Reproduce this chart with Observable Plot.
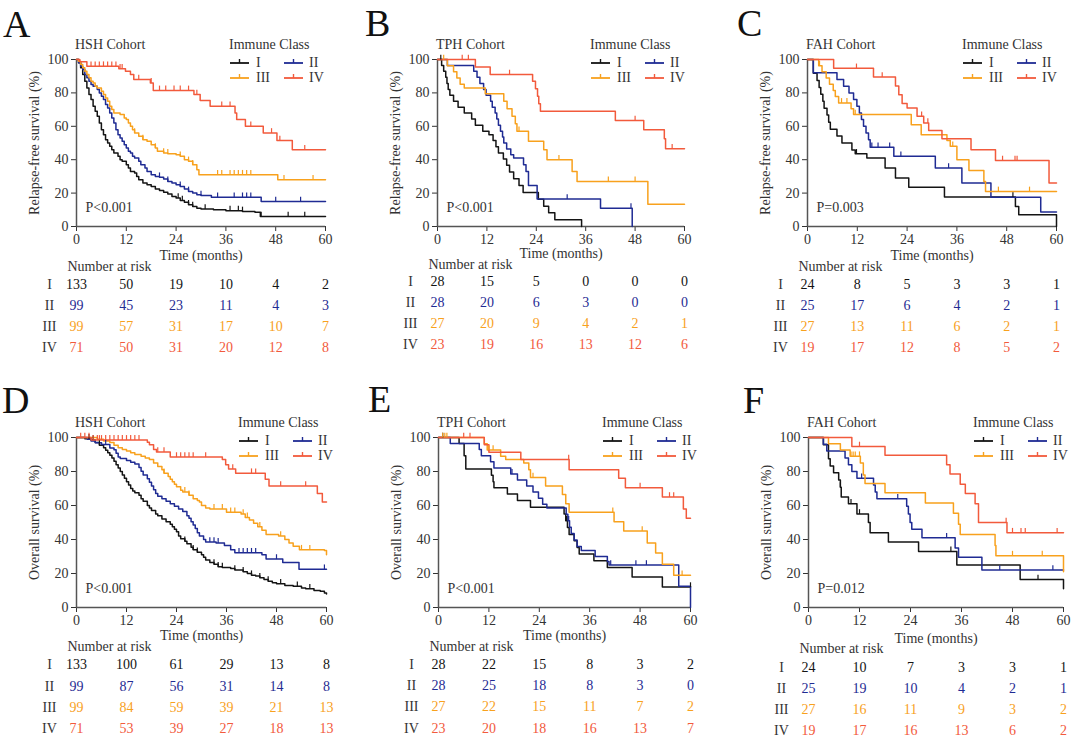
<!DOCTYPE html>
<html>
<head>
<meta charset="utf-8">
<script src="https://cdn.jsdelivr.net/npm/d3@7"></script>
<script src="https://cdn.jsdelivr.net/npm/@observablehq/plot@0.6"></script>
<style>
  body { margin: 0; background: #fff; }
  #root { position: relative; width: 1080px; height: 748px; overflow: hidden; background: #fff; }
  #root > .pl { position: absolute; }
</style>
</head>
<body>
<div id="root"></div>
<script>
// ---------- shared ----------
const months = [0, 12, 24, 36, 48, 60];
const yTicks = [0, 20, 40, 60, 80, 100];
const classNames = ["I", "II", "III", "IV"];
const classColors = ["#141414", "#1f2b93", "#f8a11d", "#f25a3c"];

// ---------- Panel A: HSH relapse-free survival ----------
const rfsHSH_I = [[0,100],[0.5,98],[1,95],[1.5,91],[2,87],[2.5,83],[3,79],[3.5,76],[4,72],[4.5,69],[5,66],[5.5,62],[6,58],[6.5,55],[7,52],[7.5,50],[8,48],[8.5,46],[9,44],[10,42],[10.5,40],[11,39],[12,37],[12.5,35],[13,33],[14,32],[14.5,30],[15,28],[16,26],[17,25],[18,24],[19,22.5],[20,21.5],[21,20.5],[22,19.5],[23,18],[24,17],[25,15.5],[26,14.5],[27,13],[28,12],[29,11],[30,10.5],[33,10],[36,9.5],[40,9],[43,8.5],[44.3,6],[60,6]];
const rfsHSH_II = [[0,100],[0.5,98],[1,96],[1.5,94],[2,91],[2.5,89],[3,87],[3.5,85],[4,84],[5,82],[5.5,80],[6,78],[6.5,76],[7,73],[7.5,71],[8,68],[8.5,65],[9,62],[9.5,58],[10,55],[10.5,53],[11,51],[11.5,49],[12,47],[12.5,45],[13,44],[13.5,42],[14,41],[15,39],[15.5,37],[16.5,35],[17,33],[18,31],[19,30],[20,29.5],[21,28.5],[22,27],[23,26],[24,25],[25,24],[26,22.5],[27,21],[28,20],[29,19],[30,18.5],[32.5,17.5],[44.5,15],[60,15]];
const rfsHSH_III = [[0,100],[0.5,99],[1,97],[1.5,95],[2,93],[2.5,91],[3,89],[3.5,87],[4,86],[4.5,84],[5,83],[6,81],[6.5,79],[7,77],[7.5,75],[8,72],[8.5,70],[9,68],[10.5,67],[11.5,65],[12,64],[12.5,62],[13,60],[13.5,58],[14,56],[15,54],[16,52],[17,51],[18,49],[19,47],[19.5,45],[21,44],[22,43.5],[24,43],[25,42],[26,40],[27,39],[28,37],[29,34],[29.5,31],[48.5,28],[60,28]];
const rfsHSH_IV = [[0,100],[0.8,98.6],[2.5,96],[10.2,94.5],[11.8,93],[13,91],[13.8,88],[17.8,86],[18.5,81.5],[28.3,79],[29.8,75.5],[32.2,72],[38.2,68],[38.6,64],[40.7,60],[45,56],[48.3,51.5],[52,46],[60,46]];
const rfsHSH_I_cens = [24.5,25.5,27,28,31,37,39,40,44.5,51,55];
const rfsHSH_II_cens = [20,22,25,27,30,34,38,40,41,42,48,54];
const rfsHSH_III_cens = [14,16,19,21,22,25,27,28,34,35,37,38,39,40,41,42,50,57];
const rfsHSH_IV_cens = [3.5,4.5,5.5,6.5,7.5,8.5,9.5,10.5,11,15,18,20,21.5,23.5,25,27,29,35,37,42,47,49,55];
const riskA = [[133,50,19,10,4,2],[99,45,23,11,4,3],[99,57,31,17,10,7],[71,50,31,20,12,8]];

// ---------- Panel B: TPH relapse-free survival ----------
const rfsTPH_I = [[0,100],[1,96.4],[1.5,92.9],[2,89.3],[2.3,85.7],[2.6,82.1],[3,78.6],[3.9,75],[5,71.4],[6.5,67.9],[8.3,64.3],[9.2,60.7],[11,57.1],[12.5,55],[13.5,51.5],[14.2,47.8],[14.8,44],[16,40.4],[16.8,36.7],[17.5,32.7],[18.5,28.6],[19.8,24.5],[20.8,20.4],[24.5,16.3],[25.8,12.2],[27,8.2],[28.5,4.1],[35,0]];
const rfsTPH_II = [[0,100],[2.4,96.4],[8.8,92.9],[9.6,89.3],[10.3,85.7],[11.2,82.1],[11.8,78.6],[12.9,75],[13.3,71.4],[14,67.9],[14.4,64.3],[14.8,60.7],[15.3,57.1],[15.8,53.6],[16.1,50],[16.8,46.4],[17.8,42.9],[18.5,41],[20.9,37],[21.5,33],[22.1,24.5],[24.2,16.4],[39.6,11],[47.3,0]];
const rfsTPH_III = [[0,100],[2.4,96.3],[3.9,92.6],[4.7,88.9],[5.5,85.2],[6.5,83],[11.6,79.5],[16.1,75],[16.9,70.5],[18.1,66],[18.9,61.5],[19.3,57],[22.1,51],[25.8,46],[26.6,40],[32.7,33],[33.9,27],[51.1,13.3],[60,13.3]];
const rfsTPH_IV = [[0,100],[9.2,95.5],[12.8,91],[23.1,87],[23.8,82.5],[24.3,78],[24.6,73.5],[25,69],[43.2,63.5],[50.1,58],[55.1,52.5],[55.4,46.5],[60,46.5]];
const rfsTPH_I_cens = [0.8];
const rfsTPH_II_cens = [31.5,47];
const rfsTPH_III_cens = [1.5,19.8,29.5,41.5,48];
const rfsTPH_IV_cens = [6,7.5,17.5,48,57];
const riskB = [[28,15,5,0,0,0],[28,20,6,3,0,0],[27,20,9,4,2,1],[23,19,16,13,12,6]];

// ---------- Panel C: FAH relapse-free survival ----------
const rfsFAH_I = [[0,100],[1.4,91.7],[2.3,87.5],[2.8,83.3],[3.2,79.2],[3.7,75],[4,70.8],[4.7,66.7],[5.1,62.5],[5.5,58.3],[7.1,54.2],[8.3,50],[10.7,45.8],[11.5,43.5],[14.3,41],[18.7,35],[21.2,29],[24.4,23.5],[33,17.6],[50.1,12],[50.9,7],[60,0]];
const rfsFAH_II = [[0,100],[1.4,92],[7.1,88],[8.7,84],[10,80],[11.1,76],[11.9,72],[12.5,68],[13,64],[13.5,60],[14.1,56],[14.7,52],[15.1,47.5],[20.8,42],[30.8,35],[37.2,26],[44.2,17.5],[56.2,8.7],[60,8.7]];
const rfsFAH_III = [[0,100],[2.7,96.3],[3.5,92.6],[4.5,88.9],[5.3,85.2],[6.2,81.5],[6.7,77.8],[7.5,74],[10.5,70.5],[11.1,67],[25,61],[27.4,55],[33.6,51.5],[34.4,48],[36,40],[38.9,33.5],[42.5,27],[42.9,21],[60,21]];
const rfsFAH_IV = [[0,100],[6.3,94.7],[15.9,89.5],[21.2,84.2],[22,78.9],[22.8,73.7],[24,71],[26.4,66],[28,62],[29.2,57.5],[32.4,52.5],[39.4,46],[45.3,39.5],[58.2,26],[60,26]];
const rfsFAH_I_cens = [11.8,49.5];
const rfsFAH_II_cens = [15.5,17,19.8,22.5,34];
const rfsFAH_III_cens = [2.9,8.2,9.5,11.5,35,46,53.5];
const rfsFAH_IV_cens = [11.8,18,27.5,29,47,50,50.5];
const riskC = [[24,8,5,3,3,1],[25,17,6,4,2,1],[27,13,11,6,2,1],[19,17,12,8,5,2]];

// ---------- Panel D: HSH overall survival ----------
const osHSH_I = [[0,100],[2,99.2],[3.5,98.5],[4.5,97],[5.5,95.5],[6.5,94],[7,92.5],[7.5,91],[8,89.5],[8.5,88],[9,86],[9.5,84],[10,82],[10.5,80],[11,78],[11.5,76],[12,74],[12.5,72],[13,70],[13.5,68.5],[14,67.5],[15,66],[15.5,64],[16,62.5],[17,60],[17.5,58.5],[18,57],[19,55],[19.5,54],[20.5,52],[21.5,50.5],[22.5,49],[23,47.5],[23.5,46],[24,44.5],[24.5,42],[25,40.5],[26,39],[26.5,37.5],[27.5,35.5],[28,34],[29,32.5],[30,31],[30.5,29.5],[31,28],[32,26.5],[33,25.5],[34,24],[35,23.5],[37,23],[38,22],[40,21],[41,20],[42,19],[43,18.5],[44,17.5],[45,16.5],[46,15.5],[47,14.5],[48,14],[50,13],[52,12.5],[54,11.5],[55,11],[57,10],[58.5,9.5],[59.5,8.5],[60,8]];
const osHSH_II = [[0,100],[2.6,99],[3.5,97.9],[4.5,96.9],[6,95.9],[8,93.8],[9,92.8],[9.5,90.7],[10,88.6],[10.5,87.6],[12,86.5],[13,85.5],[14,84.4],[15,82.3],[15.5,80.2],[16,78],[17,75.8],[17.5,73.7],[18,71.5],[18.5,69.3],[19,67],[19.5,65.5],[20.5,64],[21.5,62.5],[22.5,61],[23.5,59.5],[24.5,58],[25.5,56.5],[26.5,54],[27,52.5],[27.5,50.5],[28,48.5],[28.5,46.5],[29,44],[29.5,42],[30.5,40],[31,38.5],[33.5,38],[35.5,36.5],[37,34],[38,32.2],[44.5,31],[45.5,28.5],[49.5,26.5],[53.4,22.5],[60,22.5]];
const osHSH_III = [[0,100],[5,99],[6.5,98],[8,97],[9,95.5],[10,94],[11,93],[12,92],[13,91],[14,90],[15.5,89],[16.5,88],[17.5,87],[18.5,85],[19.5,83],[20.5,81],[21,79],[22,77],[22.5,75.5],[23,74],[23.5,72.5],[24,71],[25,69],[25.5,68],[27,66],[28,64],[29,63],[29.5,62],[30,60],[31,58.5],[32,58],[36,56],[39.5,55],[40.5,53],[41.5,51.5],[42.5,49.5],[43.5,47.5],[44.5,45.5],[45.5,43],[48.5,42],[50,40],[51,38],[52,36],[53.5,34],[59.5,33.5],[60,31]];
const osHSH_IV = [[0,100],[3.5,98.6],[17,97.2],[17.5,95.8],[18.5,93],[19.2,91.5],[22.5,88.5],[35,87],[35.8,84],[36.5,81.5],[38.2,79],[45.3,75.5],[46.2,71.5],[57.8,67],[59,62],[60,62]];
const osHSH_I_cens = [3,4,5.5,26,28,29,33,34,35,38,40,42,44,46,49,53,56];
const osHSH_II_cens = [7,32,33,34,39,40,41,42,43,48,59.5];
const osHSH_III_cens = [21,26,27,33,35,37,38,40,41,44,49,54,56];
const osHSH_IV_cens = [1,2,3,4,5,5.5,6,7,8,9,10,11,12,13,14,15,19.5,21,24,25,26,27,28,31,37.5,42,43,49,55];
const riskD = [[133,100,61,29,13,8],[99,87,56,31,14,8],[99,84,59,39,21,13],[71,53,39,27,18,13]];

// ---------- Panel E: TPH overall survival ----------
const osTPH_I = [[0,100],[4.9,96.4],[6.1,89.3],[6.5,81.5],[12.6,77.8],[13,74],[13.2,70.4],[16.4,66.7],[18.8,63],[21.9,59],[29.9,55],[30.3,51],[30.7,47],[31.1,43],[32.3,39.2],[33,35.3],[33.5,31.4],[37,27.5],[40.2,23.5],[46.1,18],[53.3,12],[60,12]];
const osTPH_II = [[0,100],[2.8,96.4],[9.7,92.9],[10.2,89.3],[12.4,85.7],[13.2,82.1],[17.2,78.6],[18.8,75],[21,71.4],[22.5,67.9],[23.8,64.3],[24.8,60.7],[25.8,58.5],[30.4,54.8],[30.8,51],[31.2,47.2],[31.6,43.5],[32.3,39.7],[33,35.9],[34,33.5],[37.3,30],[40.2,27],[40.6,25],[57.2,12.5],[60,0]];
const osTPH_III = [[0,100],[10.9,96.3],[11.6,92.6],[14.8,88.9],[16,87],[20.3,85],[21.5,81],[21.9,76.5],[25.5,71.5],[29.5,66.5],[30.3,61],[31.1,56],[41.8,50.5],[44.1,45],[49.7,38],[51.7,32],[53.3,25.5],[56,19],[60,19]];
const osTPH_IV = [[0,100],[10.9,95.7],[12,91.3],[19.6,87],[31.1,81],[42.9,76],[44.5,70.5],[53.3,65],[58.3,58],[59,52.5],[60,52.5]];
const osTPH_I_cens = [1,30.5,60];
const osTPH_II_cens = [17.5,31,41,47,49.5];
const osTPH_III_cens = [1,1.5,2,12,13,22.5,41.5,48.5,58];
const osTPH_IV_cens = [6,7.5,31,48,55,56];
const riskE = [[28,22,15,8,3,2],[28,25,18,8,3,0],[27,22,15,11,7,2],[23,20,18,16,13,7]];

// ---------- Panel F: FAH overall survival ----------
const osFAH_I = [[0,100],[3.5,95.8],[4.7,87.5],[5.1,83.3],[5.9,79.2],[7.1,75],[7.5,70.8],[7.7,65],[9.4,61],[11.4,55],[14.1,50],[14.5,44],[18.8,38.5],[25.9,33],[34.9,25],[49.8,16.5],[60,11]];
const osFAH_II = [[0,100],[3.5,96],[4.3,92],[8.6,88],[9.4,84],[10.2,80],[11.4,76],[15.3,72],[15.7,68],[16.1,64],[23.1,59.5],[23.5,55],[23.9,50],[24.3,46],[26.7,41],[34.5,35],[35.3,29.5],[40.8,22],[60,22]];
const osFAH_III = [[0,100],[4.7,96.3],[7.5,92.6],[9.8,89],[12.2,85],[12.9,78],[13.3,73],[18,67.5],[27.5,61.5],[34.1,55.5],[35.3,49],[35.7,43],[43.9,36.5],[44.1,30.5],[60,21]];
const osFAH_IV = [[0,100],[10.2,94.7],[18,89.5],[32.5,84],[33.3,78.5],[35.7,72.5],[36.9,67],[39.2,61],[40,50],[46.7,44],[60,44]];
const osFAH_I_cens = [7.5,10,12,33.5,54];
const osFAH_II_cens = [12.5,21,32.5,45,57.5];
const osFAH_III_cens = [10,10.5,11,12,48,55];
const osFAH_IV_cens = [12,46.5,48,50,51,58.5];
const riskF = [[24,10,7,3,3,1],[25,19,10,4,2,1],[27,16,11,9,3,2],[19,17,16,13,6,2]];

// ---------- layout ----------
const FONT = "'Liberation Serif', 'Times New Roman', serif";
const panels = [
  {letter:"A", lx:3, ly:37, left:0, top:0, height:365, mL:76, mR:35, mT:59, mB:139, cohort:"HSH Cohort", ylabel:"Relapse-free survival (%)", p:"P<0.001",
   curves:[rfsHSH_I, rfsHSH_II, rfsHSH_III, rfsHSH_IV], cens:[rfsHSH_I_cens, rfsHSH_II_cens, rfsHSH_III_cens, rfsHSH_IV_cens], risk:riskA,
   icOff:153, timeDy:33, narDy:44, rowDy:[62,83,104,125]},
  {letter:"B", lx:365, ly:36, left:360, top:0, height:365, mL:77, mR:36, mT:59, mB:139, cohort:"TPH Cohort", ylabel:"Relapse-free survival (%)", p:"P<0.001",
   curves:[rfsTPH_I, rfsTPH_II, rfsTPH_III, rfsTPH_IV], cens:[rfsTPH_I_cens, rfsTPH_II_cens, rfsTPH_III_cens, rfsTPH_IV_cens], risk:riskB,
   icOff:153, timeDy:31, narDy:42, rowDy:[59,80,101,122]},
  {letter:"C", lx:737, ly:36, left:720, top:0, height:365, mL:87, mR:24, mT:59, mB:139, cohort:"FAH Cohort", ylabel:"Relapse-free survival (%)", p:"P=0.003",
   curves:[rfsFAH_I, rfsFAH_II, rfsFAH_III, rfsFAH_IV], cens:[rfsFAH_I_cens, rfsFAH_II_cens, rfsFAH_III_cens, rfsFAH_IV_cens], risk:riskC,
   icOff:155, timeDy:33, narDy:44, rowDy:[62,83,104,125]},
  {letter:"D", lx:2, ly:413, left:0, top:380, height:368, mL:76, mR:34, mT:57, mB:141, cohort:"HSH Cohort", ylabel:"Overall survival (%)", p:"P<0.001",
   curves:[osHSH_I, osHSH_II, osHSH_III, osHSH_IV], cens:[osHSH_I_cens, osHSH_II_cens, osHSH_III_cens, osHSH_IV_cens], risk:riskD,
   icOff:162, timeDy:32, narDy:43, rowDy:[61,83,104,125]},
  {letter:"E", lx:368, ly:412, left:360, top:380, height:368, mL:78, mR:30, mT:57, mB:141, cohort:"TPH Cohort", ylabel:"Overall survival (%)", p:"P<0.001",
   curves:[osTPH_I, osTPH_II, osTPH_III, osTPH_IV], cens:[osTPH_I_cens, osTPH_II_cens, osTPH_III_cens, osTPH_IV_cens], risk:riskE,
   icOff:164, timeDy:32, narDy:43, rowDy:[61,82,103,125]},
  {letter:"F", lx:743, ly:413, left:720, top:380, height:368, mL:88, mR:17, mT:57, mB:141, cohort:"FAH Cohort", ylabel:"Overall survival (%)", p:"P=0.012",
   curves:[osFAH_I, osFAH_II, osFAH_III, osFAH_IV], cens:[osFAH_I_cens, osFAH_II_cens, osFAH_III_cens, osFAH_IV_cens], risk:riskF,
   icOff:165, timeDy:35, narDy:45, rowDy:[64,85,106,127]}
];

// censor tick symbol: short vertical stroke rising from the curve
const censorTick = {
  draw(context, size) {
    const h = Math.sqrt(size / Math.PI) * 1.6;
    context.moveTo(0, 0);
    context.lineTo(0, -h);
  }
};
function survAt(curve, t) {
  let v = curve[0][1];
  for (const [x, y] of curve) { if (x <= t) v = y; else break; }
  return v;
}

const root = document.getElementById("root");
const axisColor = "#555";

for (const p of panels) {
  const marks = [
    Plot.ruleX([0], {stroke: axisColor, strokeWidth: 1.5}),
    Plot.ruleY([0], {stroke: axisColor, strokeWidth: 1.5})
  ];
  p.curves.forEach((c, i) => {
    marks.push(Plot.line(c, {x: d => d[0], y: d => d[1], curve: "step-after", stroke: classColors[i], strokeWidth: 1.5}));
  });
  p.cens.forEach((cs, i) => {
    const pts = cs.map(t => ({t, s: survAt(p.curves[i], t)}));
    marks.push(Plot.dot(pts, {x: "t", y: "s", symbol: censorTick, r: 3, fill: "none", stroke: classColors[i], strokeWidth: 1.2}));
  });
  // y label (centred on the frame's left edge)
  marks.push(Plot.text([p.ylabel], {frameAnchor: "left", rotate: -90, dx: -42, textAnchor: "middle", fill: "#333", fontSize: 14}));
  // p value
  marks.push(Plot.text([p.p], {frameAnchor: "bottom-left", dx: 9, dy: -15, textAnchor: "start", fill: "#333", fontSize: 14}));
  // risk table
  marks.push(Plot.text(["Time (months)"], {frameAnchor: "bottom", dy: p.timeDy, textAnchor: "middle", fill: "#333", fontSize: 14}));
  marks.push(Plot.text(["Number at risk"], {frameAnchor: "bottom-left", dx: -9, dy: p.narDy, textAnchor: "start", fill: "#333", fontSize: 14}));
  classNames.forEach((name, i) => {
    marks.push(Plot.text([name], {frameAnchor: "bottom-left", dx: -27, dy: p.rowDy[i], textAnchor: "middle", fill: "#333", fontSize: 14}));
    marks.push(Plot.text(months, {x: d => d, text: (d, j) => String(p.risk[i][j]), frameAnchor: "bottom", dy: p.rowDy[i], textAnchor: "middle", fill: classColors[i], fontSize: 14}));
  });

  const chart = Plot.plot({
    width: 360, height: p.height,
    marginLeft: p.mL, marginRight: p.mR, marginTop: p.mT, marginBottom: p.mB,
    style: {fontFamily: FONT, fontSize: "14px", color: "#333", background: "transparent", overflow: "visible"},
    x: {domain: [0, 60], ticks: months, tickSize: 5, tickPadding: 3, label: null},
    y: {domain: [0, 100], ticks: yTicks, tickSize: 5, tickPadding: 3, label: null},
    marks
  });
  chart.classList.add("pl");
  chart.style.left = p.left + "px";
  chart.style.top = p.top + "px";
  root.appendChild(chart);
}

// overlay: panel letters, cohort titles, legends
const overlay = d3.select(root).append("svg")
  .attr("width", 1080).attr("height", 748)
  .style("position", "absolute").style("left", "0px").style("top", "0px")
  .style("pointer-events", "none").style("font-family", FONT);

for (const p of panels) {
  const x0 = p.left + p.mL, y100 = p.top + p.mT;
  overlay.append("text").attr("x", p.lx).attr("y", p.ly).attr("font-size", 38).attr("fill", "#111").text(p.letter);
  overlay.append("text").attr("x", x0 - 1).attr("y", y100 - 14).attr("dy", "0.32em")
    .attr("font-size", 14).attr("fill", "#333").text(p.cohort);
  const ic = x0 + p.icOff;
  overlay.append("text").attr("x", ic).attr("y", y100 - 14).attr("dy", "0.32em")
    .attr("font-size", 14).attr("fill", "#333").text("Immune Class");
  classNames.forEach((name, i) => {
    const col = i % 2, row = i < 2 ? 0 : 1;
    const yy = y100 + (row === 0 ? 4 : 19);
    const lx1 = ic + (col === 0 ? 1 : 55), lx2 = lx1 + 19;
    overlay.append("line").attr("x1", lx1).attr("x2", lx2).attr("y1", yy).attr("y2", yy)
      .attr("stroke", classColors[i]).attr("stroke-width", 1.8);
    overlay.append("line").attr("x1", (lx1 + lx2) / 2).attr("x2", (lx1 + lx2) / 2).attr("y1", yy).attr("y2", yy - 4)
      .attr("stroke", classColors[i]).attr("stroke-width", 1.4);
    overlay.append("text").attr("x", col === 0 ? ic + 27 : ic + 80).attr("y", yy).attr("dy", "0.32em")
      .attr("font-size", 14).attr("fill", "#333").text(name);
  });
}
</script>
</body>
</html>
